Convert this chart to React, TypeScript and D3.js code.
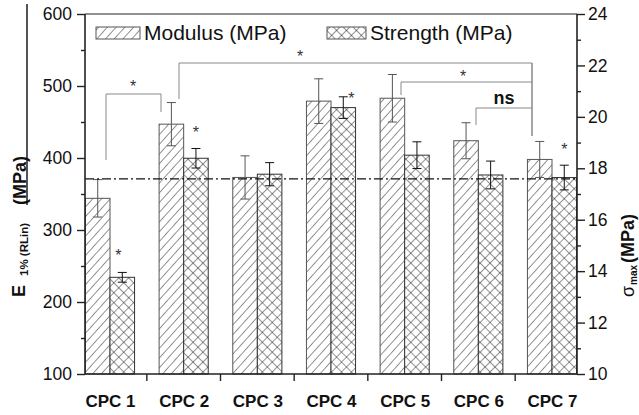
import React, { useRef, useEffect } from "react";
import * as d3 from "d3";

const categories = ["CPC 1", "CPC 2", "CPC 3", "CPC 4", "CPC 5", "CPC 6", "CPC 7"];
const modulus = [344, 447, 373, 479, 483, 424, 398];
const modulusErr = [26, 30, 30, 31, 33, 25, 25];
const strength = [13.76, 18.39, 17.77, 20.36, 18.51, 17.74, 17.64];
const strengthErr = [0.19, 0.38, 0.45, 0.42, 0.52, 0.54, 0.48];
const leftTicks = [100, 200, 300, 400, 500, 600];
const rightTicks = [10, 12, 14, 16, 18, 20, 22, 24];
const refLine = 371;
// significance brackets: [from category, to category, label]
const brackets = [
  { from: 0, to: 1, label: "*" },
  { from: 1, to: 6, label: "*" },
  { from: 4, to: 6, label: "*" },
  { from: 5, to: 6, label: "ns" },
];
const strengthStars = [0, 1, 3, 6];

const W = 639;
const H = 415;
const left = 85;
const right = 577;
const top = 14;
const bottom = 374;
const font = "'Liberation Sans', Arial, sans-serif";

function Chart() {
  const svgRef = useRef(null);

  useEffect(() => {
    const svg = d3.select(svgRef.current);
    svg.selectAll("*").remove();

    const x = d3.scalePoint().domain(categories).range([110, 552]);
    const step = x.step();
    const bw = step / 3;
    const yL = d3.scaleLinear().domain([100, 600]).range([bottom, top]);
    const yR = d3.scaleLinear().domain([10, 24]).range([bottom, top]);

    // patterns
    const defs = svg.append("defs");
    const diag = defs
      .append("pattern")
      .attr("id", "diag")
      .attr("patternUnits", "userSpaceOnUse")
      .attr("width", 6.5)
      .attr("height", 6.5)
      .attr("patternTransform", "rotate(42)");
    diag.append("rect").attr("width", 6.5).attr("height", 6.5).attr("fill", "white");
    diag.append("line").attr("x1", 0).attr("y1", 0).attr("x2", 0).attr("y2", 6.5)
      .attr("stroke", "#111").attr("stroke-width", 0.9);

    const cross = defs
      .append("pattern")
      .attr("id", "cross")
      .attr("patternUnits", "userSpaceOnUse")
      .attr("width", 7)
      .attr("height", 7)
      .attr("patternTransform", "rotate(45)");
    cross.append("rect").attr("width", 7).attr("height", 7).attr("fill", "white");
    cross.append("line").attr("x1", 0).attr("y1", 0).attr("x2", 0).attr("y2", 7)
      .attr("stroke", "#111").attr("stroke-width", 0.9);
    cross.append("line").attr("x1", 0).attr("y1", 0).attr("x2", 7).attr("y2", 0)
      .attr("stroke", "#111").attr("stroke-width", 0.9);

    // bars
    svg.selectAll("rect.mod")
      .data(modulus)
      .enter()
      .append("rect")
      .attr("class", "mod")
      .attr("x", (d, i) => x(categories[i]) - bw)
      .attr("y", (d) => yL(d))
      .attr("width", bw)
      .attr("height", (d) => bottom - yL(d))
      .attr("fill", "url(#diag)")
      .attr("stroke", "#555")
      .attr("stroke-width", 1);

    svg.selectAll("rect.str")
      .data(strength)
      .enter()
      .append("rect")
      .attr("class", "str")
      .attr("x", (d, i) => x(categories[i]))
      .attr("y", (d) => yR(d))
      .attr("width", bw)
      .attr("height", (d) => bottom - yR(d))
      .attr("fill", "url(#cross)")
      .attr("stroke", "#333")
      .attr("stroke-width", 1);

    // error bars
    const errBar = (cx, y1, y2, color) => {
      const g = svg.append("g").attr("stroke", color).attr("stroke-width", 1).attr("fill", "none");
      g.append("line").attr("x1", cx).attr("x2", cx).attr("y1", y1).attr("y2", y2);
      g.append("line").attr("x1", cx - 4.5).attr("x2", cx + 4.5).attr("y1", y1).attr("y2", y1);
      g.append("line").attr("x1", cx - 4.5).attr("x2", cx + 4.5).attr("y1", y2).attr("y2", y2);
    };
    modulus.forEach((v, i) => {
      errBar(x(categories[i]) - bw / 2, yL(v + modulusErr[i]), yL(v - modulusErr[i]), "#555");
    });
    strength.forEach((v, i) => {
      errBar(x(categories[i]) + bw / 2, yR(v + strengthErr[i]), yR(v - strengthErr[i]), "#111");
    });

    // reference dash-dot line
    svg.append("line")
      .attr("x1", left).attr("x2", right)
      .attr("y1", yL(refLine)).attr("y2", yL(refLine))
      .attr("stroke", "#111").attr("stroke-width", 1.2)
      .attr("stroke-dasharray", "9,3,2,3");

    // significance brackets
    const bracketGeom = [
      { x1: 106, x2: 161, y: 94, l: 160, r: 112, tx: 133, ty: 82 },
      { x1: 179, x2: 532, y: 63, l: 99, r: 136, tx: 300, ty: 52 },
      { x1: 401, x2: 532, y: 82, l: 95, r: 82, tx: 463, ty: 72 },
      { x1: 476, x2: 532, y: 108, l: 125, r: 108, tx: 504, ty: 98 },
    ];
    brackets.forEach((b, i) => {
      const g = bracketGeom[i];
      svg.append("path")
        .attr("d", `M${g.x1},${g.l}V${g.y}H${g.x2}V${g.r}`)
        .attr("fill", "none")
        .attr("stroke", "#888")
        .attr("stroke-width", 1);
      const isNs = b.label === "ns";
      svg.append("text")
        .attr("x", g.tx)
        .attr("y", isNs ? g.ty + 6 : g.ty + 10)
        .attr("text-anchor", "middle")
        .attr("font-family", font)
        .attr("font-size", isNs ? 18 : 16)
        .attr("font-weight", isNs ? "bold" : "normal")
        .attr("fill", isNs ? "#111" : "#333")
        .text(b.label);
    });
    svg.append("line").attr("x1", 532).attr("x2", 532).attr("y1", 63).attr("y2", 136)
      .attr("stroke", "#888").attr("stroke-width", 1);

    // stars over strength bars
    strengthStars.forEach((i) => {
      const cx = x(categories[i]) + bw / 2 + (i === 3 ? 8 : 0) + (i === 0 ? -4 : 0);
      const topY = yR(strength[i] + strengthErr[i]);
      const sy = i === 0 ? 251 : i === 3 ? 94 : topY - 20;
      svg.append("text")
        .attr("x", cx)
        .attr("y", sy + 10)
        .attr("text-anchor", "middle")
        .attr("font-family", font)
        .attr("font-size", 16)
        .attr("fill", "#333")
        .text("*");
    });

    // axes frame
    svg.append("line").attr("x1", left).attr("x2", right).attr("y1", top).attr("y2", top)
      .attr("stroke", "#222").attr("stroke-width", 1);
    svg.append("line").attr("x1", left).attr("x2", left).attr("y1", top).attr("y2", bottom)
      .attr("stroke", "#222").attr("stroke-width", 1.6);
    svg.append("line").attr("x1", right).attr("x2", right).attr("y1", top).attr("y2", bottom)
      .attr("stroke", "#222").attr("stroke-width", 1.6);
    svg.append("line").attr("x1", left).attr("x2", right).attr("y1", bottom).attr("y2", bottom)
      .attr("stroke", "#222").attr("stroke-width", 1.6);

    // left axis
    const gL = svg.append("g").attr("transform", `translate(${left},0)`);
    gL.call(d3.axisLeft(yL).tickValues(d3.range(150, 600, 100)).tickSize(4).tickFormat(() => ""));
    gL.call((g) => g.select(".domain").remove());
    const gL2 = svg.append("g").attr("transform", `translate(${left},0)`);
    gL2.call(d3.axisLeft(yL).tickValues(leftTicks).tickSize(8).tickPadding(5));
    gL2.select(".domain").remove();
    gL2.selectAll("text").attr("font-family", font).attr("font-size", 17.5).attr("fill", "#111");

    // right axis
    const gR = svg.append("g").attr("transform", `translate(${right},0)`);
    gR.call(d3.axisRight(yR).tickValues(d3.range(11, 24, 2)).tickSize(4).tickFormat(() => ""));
    gR.select(".domain").remove();
    const gR2 = svg.append("g").attr("transform", `translate(${right},0)`);
    gR2.call(d3.axisRight(yR).tickValues(rightTicks).tickSize(8).tickPadding(3));
    gR2.select(".domain").remove();
    gR2.selectAll("text").attr("font-family", font).attr("font-size", 17.5).attr("fill", "#111");

    // bottom axis
    const gB = svg.append("g").attr("transform", `translate(0,${bottom})`);
    gB.call(d3.axisBottom(x).tickSize(0).tickPadding(21));
    gB.select(".domain").remove();
    gB.selectAll("text").attr("font-family", font).attr("font-size", 17).attr("font-weight", "bold").attr("fill", "#111");
    categories.slice(1).forEach((c) => {
      const bx = x(c) - step / 2;
      svg.append("line").attr("x1", bx).attr("x2", bx).attr("y1", bottom).attr("y2", bottom + 7)
        .attr("stroke", "#222").attr("stroke-width", 1.4);
    });
    svg.selectAll(".tick line").attr("stroke", "#222").attr("stroke-width", 1.4);

    // legend
    const legend = [
      { label: "Modulus (MPa)", fill: "url(#diag)", x0: 96, w: 44 },
      { label: "Strength (MPa)", fill: "url(#cross)", x0: 327, w: 39 },
    ];
    legend.forEach((l) => {
      svg.append("rect").attr("x", l.x0).attr("y", 27).attr("width", l.w).attr("height", 12)
        .attr("fill", l.fill).attr("stroke", "#555").attr("stroke-width", 1);
      svg.append("text").attr("x", l.x0 + l.w + 4).attr("y", 40)
        .attr("font-family", font).attr("font-size", 21).attr("fill", "#111").text(l.label);
    });

    // left title (with the stray overline seen in the original)
    svg.append("rect").attr("x", 26).attr("y", 4).attr("width", 2).attr("height", 201)
      .attr("fill", "#555");
    svg.append("text").attr("transform", "translate(25,297) rotate(-90)")
      .attr("font-family", font).attr("font-size", 18).attr("font-weight", "bold").attr("fill", "#111")
      .text("E");
    svg.append("text").attr("transform", "translate(28,276) rotate(-90)")
      .attr("font-family", font).attr("font-size", 11.5).attr("font-weight", "bold").attr("fill", "#111")
      .text("1% (RLin)");
    svg.append("text").attr("transform", "translate(26,205) rotate(-90)")
      .attr("font-family", font).attr("font-size", 18).attr("font-weight", "bold").attr("fill", "#111")
      .text("(MPa)");

    // right title
    svg.append("text").attr("transform", "translate(634,297) rotate(-90)")
      .attr("font-family", font).attr("font-size", 18).attr("fill", "#111")
      .text("σ");
    svg.append("text").attr("transform", "translate(637,285) rotate(-90)")
      .attr("font-family", font).attr("font-size", 10).attr("font-weight", "bold").attr("fill", "#111")
      .text("max");
    svg.append("text").attr("transform", "translate(634,263) rotate(-90)")
      .attr("font-family", font).attr("font-size", 18).attr("font-weight", "bold").attr("fill", "#111")
      .text("(MPa)");
  }, []);

  return <svg ref={svgRef} width={W} height={H} style={{ position: "absolute", left: 0, top: 0, background: "white" }}></svg>;
}

export default function App() {
  return <Chart />;
}
